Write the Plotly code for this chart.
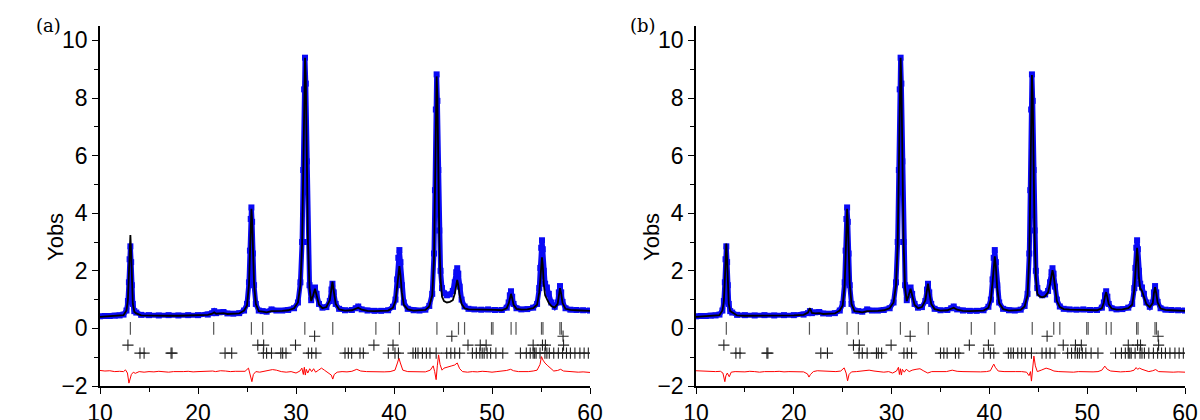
import plotly.graph_objects as go

# ---------------- data ----------------
two_theta = [
    10.0, 10.5, 11.0, 11.5, 12.0, 12.4, 12.7,
    12.85, 12.95, 13.02, 13.1, 13.18, 13.25, 13.35, 13.5, 13.7,
    14.2, 15.0, 16.0, 17.0, 18.0, 19.0, 20.0, 21.0, 21.45, 21.65, 21.85, 22.2, 22.6, 23.0, 23.6, 24.2, 24.7,
    25.0, 25.2, 25.3, 25.38, 25.45, 25.52, 25.6, 25.72, 25.9, 26.2,
    26.6, 27.0, 27.5, 28.0, 28.6, 29.2, 29.8, 30.2,
    30.45, 30.62, 30.74, 30.83, 30.92, 31.0, 31.1, 31.22, 31.38, 31.55,
    31.75, 31.94, 32.1, 32.35, 32.7, 33.1, 33.45, 33.62, 33.72, 33.85, 34.05, 34.4,
    35.0, 35.7, 36.1, 36.35, 36.7, 37.3, 38.0, 38.7, 39.4, 39.9,
    40.15, 40.32, 40.44, 40.55, 40.66, 40.8, 41.0, 41.4,
    42.0, 42.6, 43.2, 43.6, 43.9,
    44.08, 44.18, 44.27, 44.35, 44.43, 44.52, 44.62, 44.75, 44.9,
    45.1, 45.4, 45.7, 46.0, 46.2, 46.35, 46.45, 46.56, 46.7, 46.9, 47.2, 47.6,
    48.2, 48.9, 49.6, 50.3, 51.0, 51.5,
    51.7, 51.82, 51.94, 52.06, 52.2, 52.5,
    53.0, 53.6, 54.2, 54.6,
    54.82, 54.93, 55.02, 55.1, 55.18, 55.28, 55.42, 55.6, 55.8, 56.05, 56.4,
    56.7, 56.82, 56.94, 57.06, 57.2, 57.5,
    58.0, 58.6, 59.3, 60.0,
]
y_obs = [
    0.42, 0.43, 0.43, 0.44, 0.45, 0.48, 0.62,
    0.95, 1.6, 2.4, 2.85, 2.3, 1.5, 0.85, 0.6, 0.55,
    0.47, 0.46, 0.45, 0.46, 0.45, 0.46, 0.46, 0.48, 0.53, 0.60, 0.53, 0.56, 0.57, 0.52, 0.51, 0.53, 0.62,
    0.85, 1.6, 2.7, 3.8, 4.2, 3.7, 2.6, 1.5, 0.85, 0.62,
    0.6, 0.58, 0.66, 0.62, 0.62, 0.64, 0.70, 0.9,
    1.6, 3.0, 5.5, 8.3, 9.4, 8.5, 5.8, 3.0, 1.5, 0.98,
    1.2, 1.42, 1.2, 0.85, 0.72, 0.74, 0.95, 1.35, 1.55, 1.25, 0.85, 0.68,
    0.63, 0.64, 0.70, 0.76, 0.66, 0.62, 0.61, 0.61, 0.63, 0.75,
    1.0, 1.7, 2.45, 2.72, 2.3, 1.5, 0.9, 0.68,
    0.63, 0.62, 0.65, 0.78, 1.2,
    2.6, 4.8, 7.6, 8.82, 7.9, 5.5, 3.4, 2.0, 1.4,
    1.22, 1.15, 1.18, 1.3, 1.6, 1.95, 2.09, 1.9, 1.45, 1.0, 0.76, 0.68,
    0.66, 0.65, 0.66, 0.64, 0.64, 0.72,
    0.9, 1.15, 1.29, 1.1, 0.85, 0.7,
    0.66, 0.67, 0.72, 0.85,
    1.4, 2.1, 2.8, 3.06, 2.75, 2.0, 1.55, 1.42, 1.2, 0.9, 0.75,
    0.9, 1.25, 1.47, 1.25, 0.92, 0.7,
    0.65, 0.64, 0.63, 0.62,
]
y_calc_a = [
    0.40, 0.41, 0.41, 0.42, 0.43, 0.46, 0.62,
    1.0, 1.9, 2.9, 3.24, 2.6, 1.6, 0.85, 0.58, 0.52,
    0.45, 0.44, 0.44, 0.44, 0.44, 0.45, 0.45, 0.47, 0.51, 0.56, 0.51, 0.52, 0.53, 0.50, 0.50, 0.52, 0.62,
    0.8, 1.5, 2.6, 3.7, 4.15, 3.75, 2.7, 1.55, 0.85, 0.6,
    0.58, 0.56, 0.60, 0.60, 0.61, 0.63, 0.70, 0.9,
    1.5, 2.9, 5.4, 8.2, 9.4, 8.6, 5.9, 3.0, 1.4, 0.95,
    1.15, 1.38, 1.15, 0.82, 0.70, 0.74, 0.98, 1.42, 1.62, 1.3, 0.85, 0.66,
    0.62, 0.63, 0.67, 0.72, 0.65, 0.61, 0.60, 0.60, 0.62, 0.72,
    0.95, 1.45, 1.95, 2.16, 1.85, 1.25, 0.82, 0.66,
    0.62, 0.62, 0.64, 0.76, 1.15,
    2.4, 4.5, 7.4, 8.75, 8.0, 5.6, 3.2, 1.7, 1.1,
    0.95, 0.9, 0.92, 0.98, 1.2, 1.55, 1.68, 1.5, 1.15, 0.85, 0.7, 0.66,
    0.65, 0.64, 0.65, 0.64, 0.63, 0.70,
    0.86, 1.08, 1.2, 1.05, 0.82, 0.68,
    0.65, 0.66, 0.7, 0.82,
    1.25, 1.7, 2.25, 2.47, 2.2, 1.55, 1.15, 1.0, 0.88, 0.78, 0.72,
    0.85, 1.18, 1.4, 1.2, 0.88, 0.68,
    0.64, 0.63, 0.62, 0.61,
]
y_calc_b = [
    0.40, 0.41, 0.41, 0.42, 0.43, 0.46, 0.62,
    0.95, 1.7, 2.6, 2.95, 2.4, 1.5, 0.85, 0.6, 0.55,
    0.45, 0.44, 0.44, 0.44, 0.44, 0.45, 0.45, 0.47, 0.55, 0.70, 0.54, 0.52, 0.53, 0.50, 0.50, 0.52, 0.62,
    0.8, 1.5, 2.65, 3.75, 4.15, 3.75, 2.65, 1.55, 0.85, 0.6,
    0.58, 0.56, 0.60, 0.60, 0.61, 0.63, 0.70, 0.9,
    1.5, 2.9, 5.4, 8.2, 9.4, 8.6, 5.9, 3.0, 1.4, 0.95,
    1.15, 1.38, 1.15, 0.82, 0.70, 0.74, 0.97, 1.38, 1.55, 1.27, 0.85, 0.67,
    0.62, 0.63, 0.67, 0.72, 0.65, 0.61, 0.60, 0.60, 0.62, 0.72,
    1.0, 1.6, 2.25, 2.5, 2.15, 1.4, 0.88, 0.67,
    0.62, 0.62, 0.64, 0.76, 1.15,
    2.5, 4.6, 7.5, 8.8, 8.0, 5.6, 3.3, 1.8, 1.2,
    1.12, 1.08, 1.12, 1.25, 1.55, 1.9, 2.02, 1.85, 1.4, 0.95, 0.74, 0.67,
    0.65, 0.64, 0.65, 0.64, 0.63, 0.70,
    0.9, 1.12, 1.26, 1.08, 0.84, 0.69,
    0.65, 0.66, 0.7, 0.82,
    1.35, 1.95, 2.55, 2.8, 2.5, 1.8, 1.4, 1.3, 1.1, 0.85, 0.74,
    0.88, 1.22, 1.43, 1.22, 0.9, 0.69,
    0.64, 0.63, 0.62, 0.61,
]

diff_a_x = [
    10, 10.5, 11, 11.5, 12, 12.4, 12.6, 12.8, 12.95, 13.05, 13.2, 13.4, 13.6, 14, 14.5, 15, 15.5, 16, 16.5,
    17, 17.5, 18, 18.5, 19, 19.5, 20, 20.5, 21, 21.5, 21.8, 22.3, 22.8, 23.3, 23.8, 24.3, 24.8, 25.15,
    25.35, 25.5, 25.65, 25.9, 26.3, 26.8, 27.2, 27.6, 28, 28.5, 29, 29.5, 30, 30.4, 30.6, 30.75, 30.85,
    30.95, 31.05, 31.2, 31.4, 31.6, 31.8, 32.0, 32.3, 32.6, 32.9, 33.3, 33.6, 33.75, 33.9, 34.2, 34.7,
    35.2, 35.7, 36.2, 36.6, 37.2, 37.8, 38.4, 39, 39.6, 40.1, 40.35, 40.5, 40.65, 40.9, 41.4, 42, 42.6,
    43.2, 43.7, 44.0, 44.15, 44.3, 44.42, 44.55, 44.7, 44.9, 45.1, 45.5, 45.9, 46.2, 46.45, 46.7, 47.0,
    47.5, 48, 48.5, 49, 49.5, 50, 50.5, 51, 51.5, 51.9, 52.2, 52.7, 53.2, 53.7, 54.2, 54.6, 54.9, 55.05,
    55.2, 55.4, 55.7, 56.0, 56.3, 56.7, 57.0, 57.3, 57.8, 58.3, 58.8, 59.3, 60,
]
diff_a_y = [
    -1.46, -1.48, -1.47, -1.50, -1.49, -1.50, -1.44, -1.55, -1.90, -1.75, -1.60, -1.52, -1.56, -1.50, -1.52, -1.50, -1.51, -1.49, -1.50,
    -1.52, -1.50, -1.51, -1.50, -1.49, -1.51, -1.50, -1.49, -1.50, -1.48, -1.50, -1.47, -1.48, -1.50, -1.49, -1.50, -1.49, -1.38,
    -1.60, -1.85, -1.60, -1.50, -1.52, -1.49, -1.46, -1.43, -1.45, -1.50, -1.52, -1.50, -1.55, -1.48, -1.38, -1.60, -1.35,
    -1.62, -1.42, -1.55, -1.40, -1.50, -1.40, -1.52, -1.45, -1.38, -1.45, -1.55, -1.62, -1.76, -1.60, -1.52, -1.50,
    -1.51, -1.49, -1.42, -1.48, -1.50, -1.51, -1.50, -1.51, -1.50, -1.45, -1.20, -1.03, -1.20, -1.45, -1.50, -1.51, -1.50,
    -1.51, -1.45, -1.30, -1.50, -1.78, -1.30, -0.92, -1.25, -1.45, -1.38, -1.33, -1.30, -1.27, -1.20, -1.40, -1.50,
    -1.52, -1.50, -1.51, -1.49, -1.50, -1.52, -1.50, -1.49, -1.46, -1.42, -1.47, -1.50, -1.51, -1.50, -1.48, -1.45, -1.25, -0.98,
    -1.10, -1.20, -1.30, -1.40, -1.48, -1.46, -1.42, -1.48, -1.50, -1.51, -1.52, -1.51, -1.53,
]
diff_b_x = [
    10, 10.5, 11, 11.5, 12, 12.5, 12.75, 12.95, 13.05, 13.2, 13.4, 13.6, 14, 15, 15.5, 16, 16.5, 17, 17.5,
    18, 18.5, 19, 19.5, 20, 20.5, 21, 21.4, 21.55, 21.7, 22, 22.4, 22.8, 23.3, 23.8, 24.3, 24.8, 25.15,
    25.35, 25.5, 25.65, 25.9, 26.4, 26.8, 27.3, 27.7, 28.2, 28.7, 29.2, 29.7, 30.1, 30.5, 30.7, 30.8, 30.9,
    31.0, 31.1, 31.3, 31.5, 31.8, 32.1, 32.5, 32.9, 33.3, 33.7, 34.1, 34.6, 35.1, 35.6, 36.2, 36.7, 37.3,
    37.9, 38.5, 39.1, 39.7, 40.1, 40.35, 40.45, 40.6, 40.9, 41.5, 42.1, 42.7, 43.3, 43.8, 44.05, 44.2, 44.3,
    44.42, 44.55, 44.7, 44.9, 45.3, 45.8, 46.2, 46.6, 47.1, 47.6, 48.1, 48.6, 49.1, 49.6, 50.1, 50.6, 51.1,
    51.5, 51.8, 52.05, 52.4, 52.9, 53.4, 53.9, 54.4, 54.8, 55.0, 55.15, 55.35, 55.6, 55.9, 56.3, 56.7, 57.0,
    57.3, 57.8, 58.3, 58.8, 59.3, 60,
]
diff_b_y = [
    -1.47, -1.48, -1.50, -1.49, -1.50, -1.49, -1.55, -1.85, -1.65, -1.55, -1.68, -1.52, -1.50, -1.51, -1.49, -1.50, -1.52, -1.50, -1.51,
    -1.50, -1.49, -1.51, -1.50, -1.51, -1.50, -1.51, -1.58, -1.69, -1.60, -1.50, -1.47, -1.48, -1.50, -1.49, -1.50, -1.48, -1.37,
    -1.55, -1.82, -1.60, -1.51, -1.50, -1.49, -1.47, -1.45, -1.48, -1.50, -1.52, -1.50, -1.55, -1.48, -1.35, -1.60, -1.40,
    -1.62, -1.42, -1.52, -1.42, -1.50, -1.45, -1.42, -1.40, -1.48, -1.55, -1.50, -1.50, -1.49, -1.50, -1.45, -1.49, -1.50,
    -1.51, -1.50, -1.51, -1.50, -1.47, -1.30, -1.24, -1.35, -1.48, -1.50, -1.51, -1.50, -1.50, -1.52, -1.64, -1.50, -1.83,
    -1.40, -0.96, -1.30, -1.50, -1.45, -1.38, -1.42, -1.48, -1.50, -1.51, -1.50, -1.52, -1.50, -1.51, -1.50, -1.51, -1.50,
    -1.45, -1.31, -1.42, -1.48, -1.50, -1.51, -1.50, -1.49, -1.45, -1.36, -1.42, -1.38, -1.42, -1.45, -1.50, -1.47, -1.43,
    -1.50, -1.51, -1.50, -1.52, -1.51, -1.52,
]

# Bragg reflection markers
bragg_bar_pos = [13.1, 21.6, 25.45, 26.6, 30.9, 33.75, 38.15, 40.55, 44.38, 46.58, 47.2,
                 49.95, 50.1, 51.95, 52.45, 55.05, 55.2, 56.93, 57.08]
bragg_bar_level = 0.0
plus_row1_pos = [31.9, 45.9, 57.25]
plus_row1_level = -0.27
plus_row2_pos = [12.85, 26.1, 26.7, 29.95, 37.95, 39.9, 47.55, 48.8, 49.4, 54.2, 55.15, 55.45, 57.3]
plus_row2_level = -0.58
plus_row3_pos = [14.08, 14.5, 17.25, 17.35, 22.76, 23.44, 26.67, 27.0, 27.5, 28.45, 28.64, 28.98,
                 31.26, 31.6, 32.04, 35.0, 35.34, 35.68, 36.53, 36.87, 39.42, 40.1, 40.45,
                 41.94, 42.2, 42.45, 42.9, 43.3, 43.67, 44.3, 45.38, 45.8, 46.2, 46.7,
                 48.0, 48.4, 48.76, 49.0, 49.2, 49.5, 49.86, 50.4, 51.1,
                 52.9, 53.5, 53.9, 54.2, 54.35, 54.5, 54.9, 55.4, 55.6, 55.85, 56.3, 56.77,
                 57.2, 57.6, 58.0, 58.46, 58.97, 59.4, 59.83]
plus_row3_level = -0.86

x_range = [10, 60]
y_range = [-2, 10.5]
x_ticks = [10, 20, 30, 40, 50, 60]
y_ticks = [-2, 0, 2, 4, 6, 8, 10]
panel_labels = ["(a)", "(b)"]
y_title = "Yobs"

assert len(two_theta) == len(y_obs) == len(y_calc_a) == len(y_calc_b)
assert len(diff_a_x) == len(diff_a_y)
assert len(diff_b_x) == len(diff_b_y)

# ---------------- figure ----------------
fig = go.Figure()
FONT = "Liberation Sans, Arial, sans-serif"
BLUE = "#0a0af5"

panels = [
    dict(xa="x", ya="y", calc=y_calc_a, dx=diff_a_x, dy=diff_a_y),
    dict(xa="x2", ya="y2", calc=y_calc_b, dx=diff_b_x, dy=diff_b_y),
]

for p in panels:
    fig.add_trace(go.Scatter(x=two_theta, y=y_obs, mode="lines+markers",
                             line=dict(color=BLUE, width=5),
                             marker=dict(symbol="square", size=6, color=BLUE),
                             xaxis=p["xa"], yaxis=p["ya"], showlegend=False))
    fig.add_trace(go.Scatter(x=two_theta, y=p["calc"], mode="lines",
                             line=dict(color="black", width=1.8),
                             xaxis=p["xa"], yaxis=p["ya"], showlegend=False))
    fig.add_trace(go.Scatter(x=p["dx"], y=p["dy"], mode="lines",
                             line=dict(color="red", width=1),
                             xaxis=p["xa"], yaxis=p["ya"], showlegend=False))
    fig.add_trace(go.Scatter(x=bragg_bar_pos, y=[bragg_bar_level] * len(bragg_bar_pos), mode="markers",
                             marker=dict(symbol="line-ns", size=9, line=dict(color="#555", width=1.2)),
                             xaxis=p["xa"], yaxis=p["ya"], showlegend=False))
    for pos, lev in [(plus_row1_pos, plus_row1_level), (plus_row2_pos, plus_row2_level),
                     (plus_row3_pos, plus_row3_level)]:
        fig.add_trace(go.Scatter(x=pos, y=[lev] * len(pos), mode="markers",
                                 marker=dict(symbol="cross-thin", size=8, line=dict(color="#222", width=1.1)),
                                 xaxis=p["xa"], yaxis=p["ya"], showlegend=False))

domains_x = [[100 / 1200, 590 / 1200], [696 / 1200, 1185 / 1200]]
dom_y = [34 / 420, 394 / 420]

def xaxis_main(dom, anchor):
    return dict(domain=dom, anchor=anchor, range=x_range, tickvals=x_ticks, automargin=False,
                ticks="outside", ticklen=6, tickwidth=1.3, tickcolor="black",
                minor=dict(ticks="outside", dtick=5, tick0=10, ticklen=4, tickcolor="black"),
                showline=True, linecolor="black", linewidth=1.5, showgrid=False, zeroline=False,
                tickfont=dict(family=FONT, size=23, color="black"))

def yaxis_main(anchor):
    return dict(domain=dom_y, anchor=anchor, range=y_range, tickvals=y_ticks, automargin=False,
                ticks="outside", ticklen=6, tickwidth=1.3, tickcolor="black",
                minor=dict(ticks="outside", dtick=1, tick0=0, ticklen=4, tickcolor="black"),
                showline=True, linecolor="black", linewidth=1.5, showgrid=False, zeroline=False,
                tickfont=dict(family=FONT, size=23, color="black"))

def xaxis_top(dom, over, anchor):
    return dict(domain=dom, overlaying=over, anchor=anchor, side="top", range=x_range, automargin=False,
                tickvals=x_ticks, ticks="inside", ticklen=6, tickcolor="black", tickwidth=1.3,
                minor=dict(ticks="inside", dtick=5, tick0=10, ticklen=5, tickcolor="black"),
                showticklabels=False, showline=True, linecolor="black", linewidth=1.5,
                showgrid=False, zeroline=False)

def yaxis_right(over, anchor):
    return dict(domain=dom_y, overlaying=over, anchor=anchor, side="right", range=y_range, automargin=False,
                dtick=1, tick0=0, ticks="inside", ticklen=4, tickcolor="black", tickwidth=1.3,
                showticklabels=False, showline=True, linecolor="black", linewidth=1.5,
                showgrid=False, zeroline=False)

annots = []
for lab, lx, tx in [(panel_labels[0], 63, 55), (panel_labels[1], 658, 651)]:
    annots.append(dict(text=lab, x=lx / 1200, y=1 - 25 / 420, xref="paper", yref="paper",
                       xanchor="right", yanchor="middle", showarrow=False,
                       font=dict(family="DejaVu Serif, serif", size=18, color="black")))
    annots.append(dict(text=y_title, x=tx / 1200, y=1 - 237 / 420, xref="paper", yref="paper",
                       xanchor="center", yanchor="middle", textangle=-90, showarrow=False,
                       font=dict(family=FONT, size=22, color="black")))

fig.update_layout(
    width=1200, height=420,
    margin=dict(l=0, r=0, t=0, b=0),
    paper_bgcolor="white", plot_bgcolor="white",
    xaxis=xaxis_main(domains_x[0], "y"),
    yaxis=yaxis_main("x"),
    xaxis2=xaxis_main(domains_x[1], "y2"),
    yaxis2=yaxis_main("x2"),
    xaxis3=xaxis_top(domains_x[0], "x", "y"),
    yaxis3=yaxis_right("y", "x"),
    xaxis4=xaxis_top(domains_x[1], "x2", "y2"),
    yaxis4=yaxis_right("y2", "x2"),
    annotations=annots,
)

fig.write_html("out.html")
